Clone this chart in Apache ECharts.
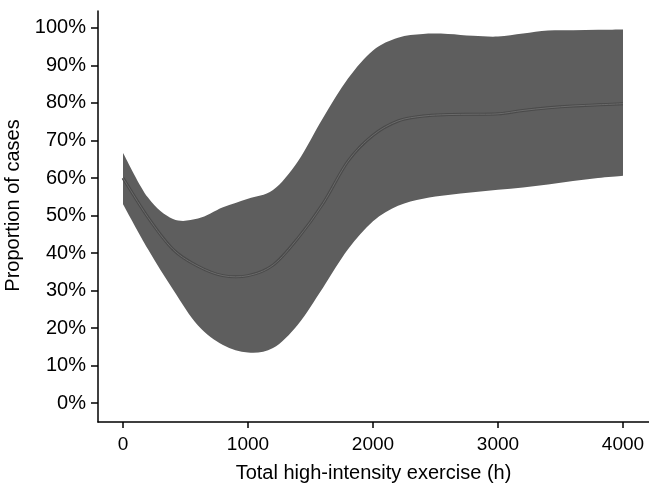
<!DOCTYPE html>
<html>
<head>
<meta charset="utf-8">
<script src="https://cdn.jsdelivr.net/npm/echarts@6/dist/echarts.min.js"></script>
<style>
  html, body { margin: 0; padding: 0; background: #fff; }
  #chart { width: 649px; height: 485px; }
</style>
</head>
<body>
<div id="chart"></div>
<script>
// hours of high-intensity exercise
let hours = [0, 200, 400, 600, 800, 1000, 1200, 1400, 1600, 1800, 2000,
    2200, 2400, 2600, 2800, 3000, 3200, 3400, 3600, 3800, 4000];
// proportion of cases (%), fitted line and confidence bounds
let fitted = [60, 49.5, 41, 36.5, 34, 34, 36.8, 44, 53.2, 64.5, 71.4,
    75.2, 76.5, 76.9, 77, 77.1, 78, 78.7, 79.2, 79.5, 79.8];
let upperCI = [66.7, 54.8, 49.1, 49.2, 52.2, 54.5, 56.8, 64.5, 76, 86.5, 94,
    97.4, 98.4, 98.4, 97.9, 97.7, 98.5, 99.3, 99.4, 99.5, 99.6];
let lowerCI = [53, 41, 30.3, 20.7, 15.5, 13.5, 14.7, 21, 30.8, 41, 48.5,
    52.6, 54.5, 55.5, 56.2, 56.9, 57.5, 58.3, 59.2, 60, 60.6];

let xTicks = [0, 1000, 2000, 3000, 4000];
let yTicks = [0, 10, 20, 30, 40, 50, 60, 70, 80, 90, 100];

let bandColor = '#5e5e5e';
let fontFam = '"Liberation Sans", Arial, sans-serif';

let bandData = hours.map(function (h, i) {
    return [h, lowerCI[i], upperCI[i], fitted[i]];
});

// catmull-rom through pixel points, written as svg cubic segments
function smoothPath(pts, moveFirst) {
    let d = (moveFirst ? 'M' : 'L') + pts[0][0] + ' ' + pts[0][1];
    for (let i = 0; i < pts.length - 1; ++i) {
        let p0 = pts[i - 1] || pts[i];
        let p1 = pts[i];
        let p2 = pts[i + 1];
        let p3 = pts[i + 2] || pts[i + 1];
        let c1x = p1[0] + (p2[0] - p0[0]) / 6, c1y = p1[1] + (p2[1] - p0[1]) / 6;
        let c2x = p2[0] - (p3[0] - p1[0]) / 6, c2y = p2[1] - (p3[1] - p1[1]) / 6;
        d += ' C' + c1x + ' ' + c1y + ' ' + c2x + ' ' + c2y + ' ' + p2[0] + ' ' + p2[1];
    }
    return d;
}

function renderBand(params, api) {
    // whole band is drawn once, from the first item
    if (params.dataIndex !== 0)
        return null;
    let top = [], bottom = [], mid = [];
    for (let i = 0; i < hours.length; ++i) {
        top.push(api.coord([hours[i], upperCI[i]]));
        bottom.push(api.coord([hours[i], lowerCI[i]]));
        mid.push(api.coord([hours[i], fitted[i]]));
    }
    bottom.reverse();
    let band = smoothPath(top, true) + ' ' + smoothPath(bottom, false) + ' Z';
    let line = smoothPath(mid, true);
    return {
        type: 'group',
        children: [
            { type: 'path', shape: { pathData: band }, style: { fill: bandColor, stroke: 'none' } },
            { type: 'path', shape: { pathData: line }, style: { fill: 'none', stroke: '#4a4a4a', lineWidth: 3 } },
            { type: 'path', shape: { pathData: line }, style: { fill: 'none', stroke: '#6b6b6b', lineWidth: 1 } }
        ]
    };
}

let Chart = echarts.init(document.getElementById('chart'));
let option = {
    animation: false,
    grid: { left: 98, right: 0, top: 11, bottom: 63, outerBoundsMode: 'none' },
    xAxis: {
        type: 'value',
        min: -200,
        max: 4208,
        name: 'Total high-intensity exercise (h)',
        nameLocation: 'middle',
        nameGap: 41,
        nameTextStyle: { color: '#000', fontSize: 20, fontFamily: fontFam },
        splitLine: { show: false },
        axisLine: { show: true, onZero: false, lineStyle: { color: '#000', width: 1.5 } },
        axisTick: { show: true, length: 6, customValues: xTicks, lineStyle: { color: '#000', width: 1.5 } },
        axisLabel: {
            customValues: xTicks, margin: 13, color: '#000', fontSize: 19, fontFamily: fontFam,
            formatter: function (v) { return String(v); }
        }
    },
    yAxis: {
        type: 'value',
        min: -5,
        max: 104.5,
        name: 'Proportion of cases',
        nameLocation: 'middle',
        nameGap: 58,
        nameTextStyle: { color: '#000', fontSize: 20, fontFamily: fontFam, padding: [0, 0, 0, 22] },
        splitLine: { show: false },
        axisLine: { show: true, onZero: false, lineStyle: { color: '#000', width: 1.5 } },
        axisTick: { show: true, length: 7, customValues: yTicks, lineStyle: { color: '#000', width: 1.5 } },
        axisLabel: {
            customValues: yTicks, margin: 12, color: '#000', fontSize: 20, fontFamily: fontFam,
            formatter: function (v) { return v + '%'; }
        }
    },
    series: [{
        type: 'custom',
        renderItem: renderBand,
        data: bandData,
        encode: { x: 0, y: [1, 2] },
        silent: true
    }]
};
Chart.setOption(option);
</script>
</body>
</html>
